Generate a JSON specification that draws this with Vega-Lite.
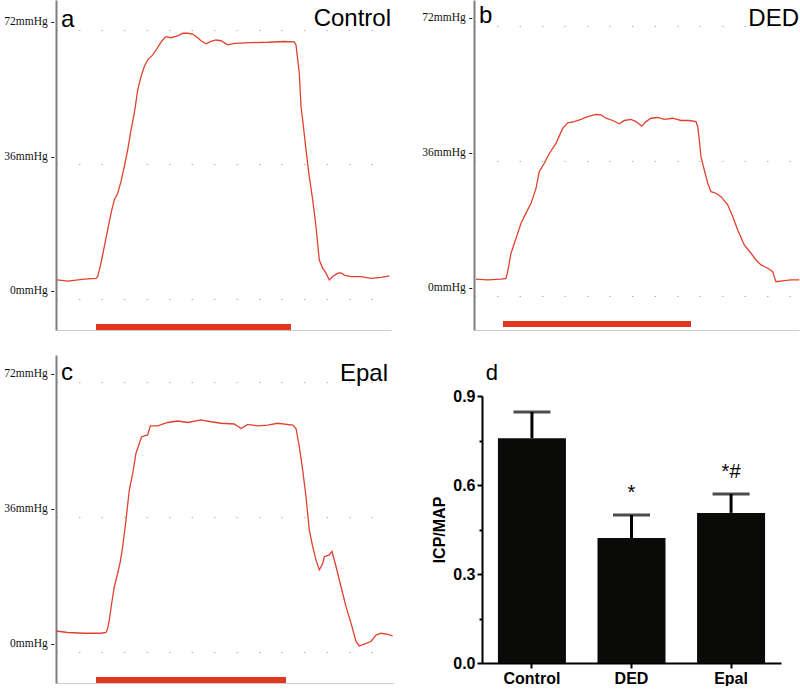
{
  "$schema": "https://vega.github.io/schema/vega-lite/v6.json",
  "padding": {"left": 3, "top": 0, "right": 0, "bottom": 0},
  "background": "white",
  "config": {"view": {"stroke": null}, "font": "Liberation Sans"},
  "spacing": 24,
  "vconcat": [
    {
      "hconcat": [
        {
          "width": 335, "height": 330,
          "layer": [
            {
              "data": {"values": [{"t":1,"v":5.1},{"t":11.7,"v":4.8},{"t":28.3,"v":5.3},{"t":40,"v":5.5},{"t":41.7,"v":6.0},{"t":45,"v":9.6},{"t":48.3,"v":14.0},{"t":51.7,"v":18.5},{"t":55,"v":22.9},{"t":58.3,"v":26.5},{"t":61.7,"v":28.3},{"t":65,"v":31.4},{"t":68.3,"v":35.4},{"t":71.7,"v":39.9},{"t":75,"v":45.2},{"t":78.3,"v":49.7},{"t":81.7,"v":55.9},{"t":85,"v":59.5},{"t":88.3,"v":62.2},{"t":91.7,"v":64.0},{"t":96.7,"v":65.3},{"t":100,"v":66.6},{"t":103.3,"v":68.0},{"t":106.7,"v":69.3},{"t":110,"v":70.2},{"t":115,"v":69.9},{"t":121.7,"v":70.4},{"t":126.7,"v":71.1},{"t":131.7,"v":71.1},{"t":136.7,"v":70.9},{"t":141.7,"v":69.9},{"t":145,"v":69.1},{"t":150,"v":68.3},{"t":155,"v":68.9},{"t":160,"v":69.3},{"t":165,"v":69.1},{"t":171.7,"v":68.0},{"t":178.3,"v":68.4},{"t":195,"v":68.6},{"t":211.7,"v":68.7},{"t":228.3,"v":68.9},{"t":238.3,"v":68.8},{"t":240,"v":68.0},{"t":243.3,"v":60.4},{"t":245,"v":51.5},{"t":246.7,"v":47.9},{"t":250,"v":39.9},{"t":253.3,"v":32.7},{"t":256.7,"v":26.5},{"t":260,"v":19.4},{"t":263.3,"v":10.4},{"t":266.7,"v":8.2},{"t":270,"v":6.9},{"t":273.3,"v":5.1},{"t":276.7,"v":6.0},{"t":281.7,"v":6.9},{"t":285,"v":7.0},{"t":288.3,"v":6.4},{"t":295,"v":6.0},{"t":305,"v":6.0},{"t":315,"v":5.5},{"t":325,"v":5.8},{"t":333.3,"v":6.2}]},
              "mark": {"type": "line", "color": "#e0412c", "strokeWidth": 1.3},
              "encoding": {
                "x": {"field": "t", "type": "quantitative", "scale": {"domain": [0, 335], "nice": false, "zero": false}, "axis": {"title": null, "labels": false, "ticks": false, "grid": false, "domainColor": "#cccccc", "domainWidth": 1}},
                "y": {"field": "v", "type": "quantitative", "scale": {"domain": [-8.3, 80], "nice": false, "zero": false}, "axis": {"title": null, "values": [0, 36, 72], "labelExpr": "datum.value + 'mmHg -'", "ticks": false, "domainColor": "#7f7f7f", "domainWidth": 2, "grid": true, "gridDash": [1.5, 21], "gridColor": "#b5b5b5", "labelOffset": -8, "labelFont": "Liberation Serif", "labelFontSize": 11.5, "labelPadding": 2, "labelColor": "#111111"}}
              }
            },
            {
              "data": {"values": [{"start": 40, "end": 235}]},
              "mark": {"type": "rule", "color": "#e2361f", "strokeWidth": 6, "strokeCap": "butt"},
              "encoding": {"x": {"field": "start", "type": "quantitative"}, "x2": {"field": "end"}, "y": {"datum": -7.5}}
            },
            {
              "data": {"values": [{"name": "a"}]},
              "mark": {"type": "text", "fontSize": 24, "align": "left", "baseline": "alphabetic", "color": "#000000"},
              "encoding": {"x": {"datum": 5}, "y": {"datum": 72.8}, "text": {"field": "name"}}
            },
            {
              "data": {"values": [{"name": "Control"}]},
              "mark": {"type": "text", "fontSize": 24, "align": "right", "baseline": "alphabetic", "color": "#000000"},
              "encoding": {"x": {"datum": 335}, "y": {"datum": 73.1}, "text": {"field": "name"}}
            }
          ]
        },
        {
          "width": 325, "height": 330,
          "layer": [
            {
              "data": {"values": [{"t":2,"v":4.5},{"t":13.7,"v":4.3},{"t":27,"v":4.5},{"t":32,"v":4.7},{"t":33.7,"v":6.5},{"t":37,"v":11.4},{"t":40.3,"v":14.0},{"t":43.7,"v":16.7},{"t":47,"v":19.4},{"t":52,"v":22.1},{"t":57,"v":24.7},{"t":62,"v":28.7},{"t":65.3,"v":33.2},{"t":70.3,"v":35.4},{"t":75.3,"v":38.0},{"t":82,"v":40.7},{"t":88.7,"v":44.7},{"t":93.7,"v":46.2},{"t":100.3,"v":46.5},{"t":107,"v":47.1},{"t":113.7,"v":47.8},{"t":122,"v":48.4},{"t":127,"v":48.3},{"t":132,"v":47.4},{"t":138.7,"v":46.8},{"t":145.3,"v":45.9},{"t":150.3,"v":46.8},{"t":157,"v":47.1},{"t":162,"v":46.5},{"t":167.7,"v":45.3},{"t":172,"v":46.5},{"t":177,"v":47.4},{"t":183.7,"v":47.6},{"t":190.3,"v":47.1},{"t":198.7,"v":47.4},{"t":207,"v":46.8},{"t":215.3,"v":46.8},{"t":222,"v":46.5},{"t":223.7,"v":45.2},{"t":225.3,"v":41.6},{"t":227,"v":37.1},{"t":230.3,"v":33.6},{"t":233.7,"v":30.1},{"t":237,"v":27.8},{"t":242,"v":27.4},{"t":247,"v":26.5},{"t":253.7,"v":24.3},{"t":258.7,"v":21.2},{"t":263.7,"v":17.6},{"t":270.3,"v":13.6},{"t":277,"v":11.4},{"t":282,"v":9.6},{"t":287,"v":8.3},{"t":293.7,"v":7.4},{"t":298.7,"v":6.5},{"t":300.3,"v":5.1},{"t":302,"v":3.8},{"t":310.3,"v":4.1},{"t":317,"v":4.3},{"t":325.3,"v":4.3}]},
              "mark": {"type": "line", "color": "#e0412c", "strokeWidth": 1.3},
              "encoding": {
                "x": {"field": "t", "type": "quantitative", "scale": {"domain": [0, 325], "nice": false, "zero": false}, "axis": {"title": null, "labels": false, "ticks": false, "grid": false, "domainColor": "#cccccc", "domainWidth": 1}},
                "y": {"field": "v", "type": "quantitative", "scale": {"domain": [-9.07, 78.93], "nice": false, "zero": false}, "axis": {"title": null, "values": [0, 36, 72], "labelExpr": "datum.value + 'mmHg -'", "ticks": false, "domainColor": "#7f7f7f", "domainWidth": 2, "grid": true, "gridDash": [1.5, 21], "gridColor": "#b5b5b5", "labelOffset": -8, "labelFont": "Liberation Serif", "labelFontSize": 11.5, "labelPadding": 2, "labelColor": "#111111"}}
              }
            },
            {
              "data": {"values": [{"start": 29, "end": 217}]},
              "mark": {"type": "rule", "color": "#e2361f", "strokeWidth": 6, "strokeCap": "butt"},
              "encoding": {"x": {"field": "start", "type": "quantitative"}, "x2": {"field": "end"}, "y": {"datum": -7.5}}
            },
            {
              "data": {"values": [{"name": "b"}]},
              "mark": {"type": "text", "fontSize": 24, "align": "left", "baseline": "alphabetic", "color": "#000000"},
              "encoding": {"x": {"datum": 5}, "y": {"datum": 72.9}, "text": {"field": "name"}}
            },
            {
              "data": {"values": [{"name": "DED"}]},
              "mark": {"type": "text", "fontSize": 24, "align": "right", "baseline": "alphabetic", "color": "#000000"},
              "encoding": {"x": {"datum": 325}, "y": {"datum": 72}, "text": {"field": "name"}}
            }
          ]
        }
      ],
      "spacing": 83,
      "bounds": "flush"
    },
    {
      "hconcat": [
        {
          "width": 337, "height": 328,
          "layer": [
            {
              "data": {"values": [{"t":0,"v":5.6},{"t":11.7,"v":5.2},{"t":28.3,"v":5.0},{"t":45,"v":5.0},{"t":50,"v":5.2},{"t":51.7,"v":6.3},{"t":53.3,"v":8.5},{"t":55.7,"v":13.0},{"t":58.3,"v":17.4},{"t":61.7,"v":21.0},{"t":64.3,"v":24.1},{"t":66.7,"v":28.1},{"t":70,"v":35.2},{"t":73.3,"v":43.2},{"t":76.7,"v":47.6},{"t":80,"v":53.0},{"t":83.3,"v":55.6},{"t":85.7,"v":57.4},{"t":91.7,"v":57.9},{"t":94.3,"v":60.3},{"t":101.7,"v":60.3},{"t":111.7,"v":61.2},{"t":121.7,"v":61.6},{"t":131.7,"v":61.2},{"t":145,"v":61.9},{"t":155,"v":61.4},{"t":165,"v":61.0},{"t":178.3,"v":60.8},{"t":185,"v":59.6},{"t":191.7,"v":60.7},{"t":201.7,"v":60.3},{"t":211.7,"v":60.5},{"t":221.7,"v":61.0},{"t":236.7,"v":60.5},{"t":240,"v":59.6},{"t":243.3,"v":54.8},{"t":246.7,"v":48.5},{"t":250,"v":41.4},{"t":253.3,"v":32.5},{"t":256.7,"v":28.1},{"t":260,"v":24.5},{"t":263.3,"v":21.9},{"t":266.7,"v":23.6},{"t":268.3,"v":25.4},{"t":273.3,"v":25.9},{"t":276,"v":26.8},{"t":280,"v":22.8},{"t":285,"v":17.4},{"t":290,"v":12.1},{"t":295,"v":7.7},{"t":300,"v":2.8},{"t":303.3,"v":1.6},{"t":308.3,"v":2.1},{"t":315,"v":2.8},{"t":320,"v":4.5},{"t":325,"v":5.0},{"t":331.7,"v":4.7},{"t":336.7,"v":4.3}]},
              "mark": {"type": "line", "color": "#e0412c", "strokeWidth": 1.3},
              "encoding": {
                "x": {"field": "t", "type": "quantitative", "scale": {"domain": [0, 337], "nice": false, "zero": false}, "axis": {"title": null, "labels": false, "ticks": false, "grid": false, "domainColor": "#cccccc", "domainWidth": 1}},
                "y": {"field": "v", "type": "quantitative", "scale": {"domain": [-8.27, 79.2], "nice": false, "zero": false}, "axis": {"title": null, "values": [0, 36, 72], "labelExpr": "datum.value + 'mmHg -'", "ticks": false, "domainColor": "#7f7f7f", "domainWidth": 2, "grid": true, "gridDash": [1.5, 21], "gridColor": "#b5b5b5", "labelOffset": -8, "labelFont": "Liberation Serif", "labelFontSize": 11.5, "labelPadding": 2, "labelColor": "#111111"}}
              }
            },
            {
              "data": {"values": [{"start": 40, "end": 230}]},
              "mark": {"type": "rule", "color": "#e2361f", "strokeWidth": 6, "strokeCap": "butt"},
              "encoding": {"x": {"field": "start", "type": "quantitative"}, "x2": {"field": "end"}, "y": {"datum": -7.47}}
            },
            {
              "data": {"values": [{"name": "c"}]},
              "mark": {"type": "text", "fontSize": 24, "align": "left", "baseline": "alphabetic", "color": "#000000"},
              "encoding": {"x": {"datum": 5}, "y": {"datum": 72.5}, "text": {"field": "name"}}
            },
            {
              "data": {"values": [{"name": "Epal"}]},
              "mark": {"type": "text", "fontSize": 24, "align": "right", "baseline": "alphabetic", "color": "#000000"},
              "encoding": {"x": {"datum": 332}, "y": {"datum": 72.3}, "text": {"field": "name"}}
            }
          ]
        },
        {
          "width": 299, "height": 308,
          "data": {"values": [
            {"group": "Control", "mean": 0.758, "upper": 0.846, "sig": ""},
            {"group": "DED", "mean": 0.421, "upper": 0.499, "sig": "*"},
            {"group": "Epal", "mean": 0.506, "upper": 0.570, "sig": "*#"}
          ]},
          "encoding": {
            "x": {"field": "group", "type": "nominal", "sort": ["Control", "DED", "Epal"], "scale": {"paddingInner": 0.317, "paddingOuter": 0.16}, "axis": {"title": null, "labelAngle": 0, "labelFontSize": 16, "labelFontWeight": "bold", "labelColor": "#000000", "labelPadding": 2, "domainColor": "#000000", "domainWidth": 2, "tickColor": "#000000", "tickWidth": 2, "tickSize": 5}}
          },
          "resolve": {"axis": {"y": "independent"}},
          "layer": [
            {
              "mark": {"type": "rule", "color": "#000000", "strokeWidth": 3},
              "encoding": {
                "y": {"field": "mean", "type": "quantitative", "scale": {"domain": [0, 0.9], "range": [308, 41], "nice": false, "zero": true}, "axis": {"orient": "left", "values": [0.15, 0.45, 0.75], "labels": false, "domain": false, "title": null, "grid": false, "tickSize": 3, "tickWidth": 2, "tickColor": "#000000"}},
                "y2": {"field": "upper"}
              }
            },
            {
              "mark": {"type": "tick", "color": "#000000", "thickness": 3, "size": 37},
              "encoding": {"y": {"field": "upper", "type": "quantitative", "axis": null}}
            },
            {
              "mark": {"type": "bar", "color": "#0a0a08"},
              "encoding": {
                "y": {"field": "mean", "type": "quantitative", "scale": {"domain": [0, 0.9], "range": [308, 41], "nice": false, "zero": true}, "axis": {"orient": "left", "values": [0, 0.3, 0.6, 0.9], "format": ".1f", "title": "ICP/MAP", "titleFontSize": 16, "titleFontWeight": "bold", "titleColor": "#000000", "titlePadding": 5, "labelFontSize": 16, "labelFontWeight": "bold", "labelColor": "#000000", "labelPadding": 2, "grid": false, "domainColor": "#000000", "domainWidth": 2, "tickColor": "#000000", "tickWidth": 2, "tickSize": 5}}
              }
            },
            {
              "mark": {"type": "text", "fontSize": 20, "baseline": "alphabetic", "dy": -16, "color": "#000000"},
              "encoding": {"y": {"field": "upper", "type": "quantitative", "axis": null}, "text": {"field": "sig"}}
            },
            {
              "data": {"values": [{"name": "d"}]},
              "mark": {"type": "text", "fontSize": 22, "align": "right", "baseline": "alphabetic", "color": "#000000"},
              "encoding": {"x": {"datum": "Control", "bandPosition": 0}, "y": {"datum": 0.954, "axis": null}, "text": {"field": "name"}}
            }
          ]
        }
      ],
      "spacing": 89,
      "bounds": "flush"
    }
  ]
}
